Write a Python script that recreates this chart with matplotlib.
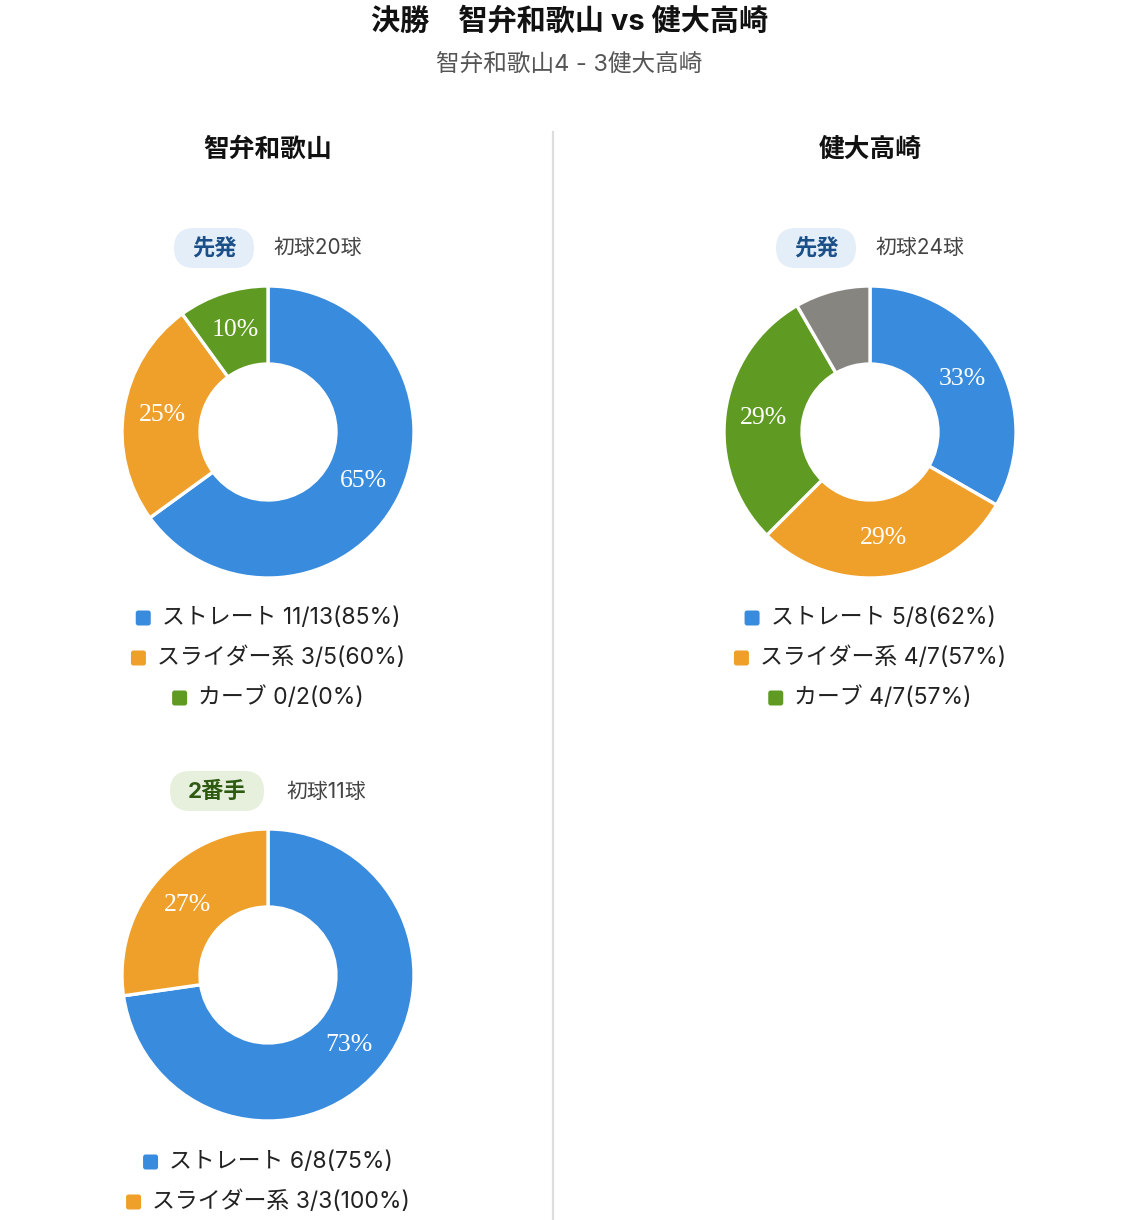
import matplotlib
matplotlib.use("Agg")
import matplotlib.pyplot as plt
from matplotlib.patches import FancyBboxPatch
import numpy as np

plt.rcParams['font.family'] = ['Inter', 'Noto Sans CJK JP', 'DejaVu Sans']

# ---------------- data ----------------
title = "決勝　智弁和歌山 vs 健大高崎"
subtitle = "智弁和歌山4 - 3健大高崎"
teams = ["智弁和歌山", "健大高崎"]

p1_role, p1_first = "先発", "初球20球"
p1_types = ["ストレート", "スライダー系", "カーブ"]
p1_counts = [13, 5, 2]
p1_strikes = [11, 3, 0]

p2_role, p2_first = "2番手", "初球11球"
p2_types = ["ストレート", "スライダー系"]
p2_counts = [8, 3]
p2_strikes = [6, 3]

p3_role, p3_first = "先発", "初球24球"
p3_types = ["ストレート", "スライダー系", "カーブ", "その他"]
p3_counts = [8, 7, 7, 2]
p3_strikes = [5, 4, 4, None]

type_colors = {"ストレート": "#388BDD", "スライダー系": "#EFA02B",
               "カーブ": "#5F9A22", "その他": "#878580"}

# ---------------- layout ----------------
W, H = 1138, 1220
fig = plt.figure(figsize=(W / 100, H / 100), dpi=100)
fig.patch.set_facecolor("white")
ov = fig.add_axes([0, 0, 1, 1])
ov.set_xlim(0, W)
ov.set_ylim(H, 0)
ov.axis("off")
ov.set_zorder(5)
ov.patch.set_alpha(0)

ov.text(W / 2 + 1, 22, title, ha="center", va="center", fontsize=21,
        fontweight="bold", color="#111111")
ov.text(W / 2, 65, subtitle, ha="center", va="center", fontsize=17,
        color="#555555")
ov.plot([553, 553], [132, H], color="#dddddd", lw=1.6)

col_x = [268, 870]
for t, cx in zip(teams, col_x):
    ov.text(cx, 150, t, ha="center", va="center", fontsize=18.5,
            fontweight="bold", color="#111111")

R = 146
RIN = 68


def badge(cx, cy, text, bg, fg, w):
    h = 40
    box = FancyBboxPatch((cx - w / 2 + 20, cy - h / 2 + 20), w - 40, h - 40,
                         boxstyle="round,pad=20", fc=bg, ec="none",
                         mutation_aspect=1)
    ov.add_patch(box)
    ov.text(cx, cy, text, ha="center", va="center", fontsize=16,
            fontweight="bold", color=fg)


def donut(cx, cy, counts, types):
    ax = fig.add_axes([(cx - R - 4) / W, 1 - (cy + R + 4) / H,
                       (2 * R + 8) / W, (2 * R + 8) / H])
    cols = [type_colors[t] for t in types]
    wedges, _ = ax.pie(counts, colors=cols, startangle=90, counterclock=False,
                       radius=1, wedgeprops=dict(width=1 - RIN / R,
                                                 edgecolor="white",
                                                 linewidth=2.4))
    ax.set_xlim(-(R + 4) / R, (R + 4) / R)
    ax.set_ylim(-(R + 4) / R, (R + 4) / R)
    ax.set_aspect("equal")
    ax.axis("off")
    total = sum(counts)
    start = 90.0
    rm = (R + RIN) / 2 / R
    for c in counts:
        frac = c / total
        ang = np.deg2rad(start - frac * 360 / 2)
        start -= frac * 360
        pct = round(frac * 100)
        if pct >= 10:
            ax.text(rm * np.cos(ang), rm * np.sin(ang), f"{pct}%",
                    ha="center", va="center", color="white", fontsize=18.5,
                    family=["Liberation Serif", "DejaVu Serif"])


def legend(cx, y0, types, counts, strikes):
    fig.canvas.draw()
    rend = fig.canvas.get_renderer()
    y = y0
    for t, c, s in zip(types, counts, strikes):
        if s is None:
            continue
        label = f"{t} {s}/{c}({round(s / c * 100)}%)"
        txt = ov.text(0, y, label, ha="left", va="center", fontsize=16.5,
                      color="#222222")
        bb = txt.get_window_extent(renderer=rend)
        tw = bb.width
        msz, gap = 15, 11
        total = msz + gap + tw
        left = cx - total / 2
        txt.set_x(left + msz + gap)
        ov.add_patch(FancyBboxPatch((left + 2.5, y - msz / 2 + 2.5), msz - 5,
                                    msz - 5, boxstyle="round,pad=2.5",
                                    fc=type_colors[t], ec="none"))
        y += 40


# pitcher 1
badge(214, 248, p1_role, "#E3EEF9", "#1B4F87", 80)
ov.text(318, 248, p1_first, ha="center", va="center", fontsize=15,
        color="#444444")
donut(268, 432, p1_counts, p1_types)
legend(268, 618, p1_types, p1_counts, p1_strikes)

# pitcher 2
badge(217, 791, p2_role, "#E7F0DD", "#2E5A12", 94)
ov.text(326, 792, p2_first, ha="center", va="center", fontsize=15,
        color="#444444")
donut(268, 975, p2_counts, p2_types)
legend(268, 1162, p2_types, p2_counts, p2_strikes)

# pitcher 3
badge(816, 248, p3_role, "#E3EEF9", "#1B4F87", 80)
ov.text(920, 248, p3_first, ha="center", va="center", fontsize=15,
        color="#444444")
donut(870, 432, p3_counts, p3_types)
legend(870, 618, p3_types, p3_counts, p3_strikes)

fig.savefig("out.png", dpi=100, facecolor="white")
